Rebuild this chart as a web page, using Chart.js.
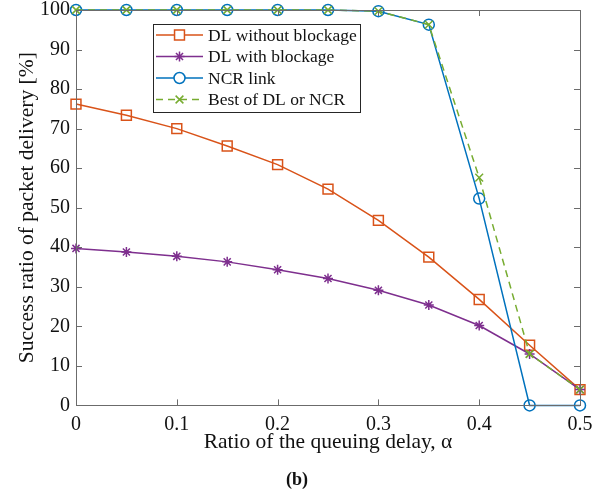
<!DOCTYPE html>
<html>
<head>
<meta charset="utf-8">
<script src="https://cdn.jsdelivr.net/npm/chart.js@4/dist/chart.umd.min.js"></script>
<style>
    html, body { margin: 0; padding: 0; background: #fff; }
    #wrap { width: 616px; height: 496px; }
</style>
</head>
<body>
<div id="wrap"><canvas id="deliveryChart" width="616" height="496"></canvas></div>
<script>
// Ratio of the queuing delay (alpha)
const alphas = [0, 0.05, 0.1, 0.15, 0.2, 0.25, 0.3, 0.35, 0.4, 0.45, 0.5];

// Success ratio of packet delivery [%]
const dlNoBlockage = [76.2, 73.4, 70, 65.6, 60.9, 54.7, 46.8, 37.5, 26.8, 15.2, 4];
const dlBlockage = [39.7, 38.8, 37.7, 36.3, 34.3, 32.1, 29.1, 25.4, 20.2, 13, 4];
const ncrLink = [100, 100, 100, 100, 100, 100, 99.7, 96.3, 52.3, 0, 0];
const bestOf = [100, 100, 100, 100, 100, 100, 99.7, 96.3, 57.6, 13, 4];

const xTicks = [0, 0.1, 0.2, 0.3, 0.4, 0.5];
const yTicks = [0, 10, 20, 30, 40, 50, 60, 70, 80, 90, 100];

const serif = "'Liberation Serif', 'DejaVu Serif', serif";
const axisColor = '#6b6b6b';

const toPoints = (ys) => ys.map((y, i) => ({ x: alphas[i], y: y }));

// Inward ticks and box, MATLAB style
const boxTicks = {
    id: 'boxTicks',
    afterDatasetsDraw(chart) {
        const { ctx, chartArea: a, scales } = chart;
        const len = 6;
        ctx.save();
        ctx.strokeStyle = axisColor;
        ctx.lineWidth = 1;
        ctx.beginPath();
        xTicks.forEach(v => {
            const px = Math.round(scales.x.getPixelForValue(v)) + 0.5;
            ctx.moveTo(px, a.bottom); ctx.lineTo(px, a.bottom - len);
            ctx.moveTo(px, a.top); ctx.lineTo(px, a.top + len);
        });
        yTicks.forEach(v => {
            const py = Math.round(scales.y.getPixelForValue(v)) + 0.5;
            ctx.moveTo(a.left, py); ctx.lineTo(a.left + len, py);
            ctx.moveTo(a.right, py); ctx.lineTo(a.right - len, py);
        });
        ctx.stroke();
        ctx.strokeRect(Math.round(a.left) + 0.5, Math.round(a.top) + 0.5,
            Math.round(a.right - a.left), Math.round(a.bottom - a.top));
        ctx.restore();
    }
};

// Legend box inside the plot area
const innerLegend = {
    id: 'innerLegend',
    afterDraw(chart, args, opts) {
        const { ctx } = chart;
        ctx.save();
        ctx.fillStyle = '#fff';
        ctx.fillRect(opts.x, opts.y, opts.w, opts.h);
        ctx.strokeStyle = '#262626';
        ctx.lineWidth = 1;
        ctx.strokeRect(opts.x + 0.5, opts.y + 0.5, opts.w, opts.h);
        ctx.font = opts.font;
        ctx.textBaseline = 'middle';
        chart.data.datasets.forEach((ds, i) => {
            const cy = opts.y + opts.first + i * opts.row;
            const x0 = opts.x + 3, x1 = x0 + opts.sample;
            ctx.strokeStyle = ds.borderColor;
            ctx.lineWidth = ds.borderWidth;
            ctx.setLineDash(ds.borderDash || []);
            ctx.beginPath();
            ctx.moveTo(x0, cy); ctx.lineTo(x1, cy);
            ctx.stroke();
            ctx.setLineDash([]);
            ctx.fillStyle = '#fff';
            Chart.helpers.drawPoint(ctx, {
                pointStyle: ds.pointStyle,
                radius: ds.pointRadius,
                borderWidth: ds.pointBorderWidth || ds.borderWidth,
                rotation: 0
            }, (x0 + x1) / 2, cy);
            ctx.fillStyle = '#111';
            ctx.fillText(ds.label, x1 + 5, cy + 1);
        });
        ctx.restore();
    }
};

const ctx = document.getElementById('deliveryChart').getContext('2d');

const deliveryChart = new Chart(ctx, {
    type: 'line',
    data: {
        datasets: [
            {
                label: 'DL without blockage',
                data: toPoints(dlNoBlockage),
                borderColor: '#D95319',
                backgroundColor: 'rgba(0,0,0,0)',
                borderWidth: 1.5,
                pointStyle: 'rect',
                pointRadius: 7,
                pointBorderWidth: 1.5,
                order: 3
            },
            {
                label: 'DL with blockage',
                data: toPoints(dlBlockage),
                borderColor: '#7E2F8E',
                backgroundColor: 'rgba(0,0,0,0)',
                borderWidth: 1.5,
                pointStyle: 'star',
                pointRadius: 5,
                pointBorderWidth: 1.5,
                order: 2
            },
            {
                label: 'NCR link',
                data: toPoints(ncrLink),
                borderColor: '#0072BD',
                backgroundColor: 'rgba(0,0,0,0)',
                borderWidth: 1.5,
                pointStyle: 'circle',
                pointRadius: 5.5,
                pointBorderWidth: 1.5,
                order: 1
            },
            {
                label: 'Best of DL or NCR',
                data: toPoints(bestOf),
                borderColor: '#77AC30',
                backgroundColor: 'rgba(0,0,0,0)',
                borderWidth: 1.5,
                borderDash: [7, 5],
                pointStyle: 'crossRot',
                pointRadius: 5.5,
                pointBorderWidth: 1.5,
                order: 0
            }
        ]
    },
    options: {
        responsive: false,
        animation: false,
        clip: 10,
        layout: { padding: { left: 14, right: 36, top: 10, bottom: 1 } },
        elements: { line: { tension: 0, fill: false } },
        plugins: {
            legend: { display: false },
            tooltip: { enabled: false },
            title: {
                display: true,
                position: 'bottom',
                text: '(b)',
                color: '#111',
                font: { family: serif, size: 18, weight: 'bold' },
                padding: { top: 14, bottom: 4 }
            },
            innerLegend: {
                x: 153, y: 24, w: 207, h: 88,
                first: 11, row: 21.5, sample: 47,
                font: "17.5px " + serif
            }
        },
        scales: {
            x: {
                type: 'linear',
                min: 0,
                max: 0.5,
                afterBuildTicks: (s) => { s.ticks = xTicks.map(v => ({ value: v })); },
                grid: { display: false, drawTicks: false },
                border: { display: false },
                ticks: {
                    color: '#111',
                    padding: 7,
                    font: { family: serif, size: 20 },
                    callback: (v) => String(v)
                },
                title: {
                    display: true,
                    text: 'Ratio of the queuing delay, α',
                    color: '#111',
                    font: { family: serif, size: 21.5 },
                    padding: { top: 3, bottom: 0 }
                },
                afterFit: (s) => { s.height = 50; }
            },
            y: {
                min: 0,
                max: 100,
                afterBuildTicks: (s) => { s.ticks = yTicks.map(v => ({ value: v })); },
                grid: { display: false, drawTicks: false },
                border: { display: false },
                ticks: {
                    color: '#111',
                    padding: 6,
                    font: { family: serif, size: 20 }
                },
                title: {
                    display: true,
                    text: 'Success ratio of packet delivery [%]',
                    color: '#111',
                    font: { family: serif, size: 21.5 },
                    padding: { top: 0, bottom: 2 }
                },
                afterFit: (s) => {
                    s.width = 62;
                    s.paddingTop = 0;
                    s.paddingBottom = 0;
                }
            }
        }
    },
    plugins: [boxTicks, innerLegend]
});
</script>
</body>
</html>
